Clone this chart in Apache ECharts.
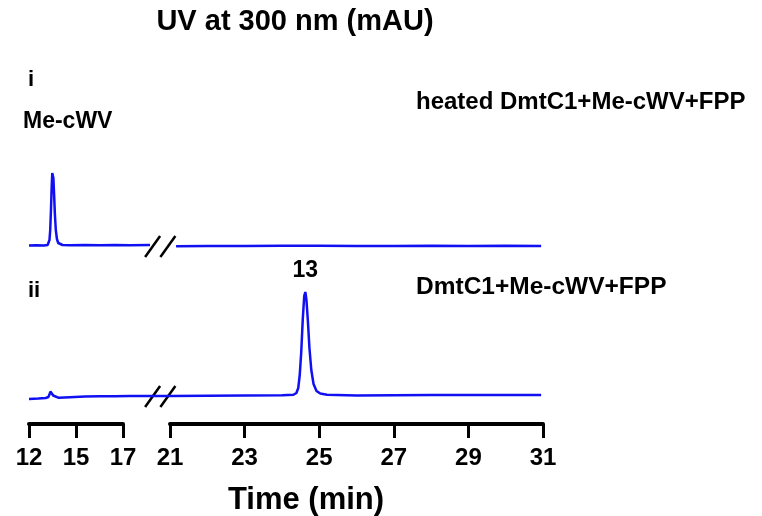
<!DOCTYPE html>
<html>
<head>
<meta charset="utf-8">
<script src="https://cdn.jsdelivr.net/npm/echarts@6/dist/echarts.min.js"></script>
<style>
  html, body { margin: 0; padding: 0; background: #fff; }
  #chart { width: 762px; height: 516px; }
</style>
</head>
<body>
<div id="chart"></div>
<script>
// tick labels of the broken time axis
const leftTicks = ['12', '15', '17']
const rightTicks = [21, 23, 25, 27, 29, 31]

// trace i : heated DmtC1 + Me-cWV + FPP   [time, mAU]
const traceILeft = [
  [12.0, 4.5], [12.4, 4.8], [12.8, 4.6], [13.0, 5.0], [13.06, 6.5], [13.1, 10],
  [13.14, 20], [13.18, 40], [13.22, 64], [13.25, 77], [13.28, 79], [13.31, 72],
  [13.35, 55], [13.39, 36], [13.44, 20], [13.5, 11], [13.57, 7], [13.65, 5.5],
  [13.8, 5.0], [14.2, 4.8], [15.0, 5.0], [15.8, 4.7], [16.6, 5.0], [17.4, 4.8],
  [18.5, 5.0]
]
const traceIRight = [
  [21.15, 3.8], [22.0, 4.0], [23.0, 3.9], [24.0, 4.2], [25.0, 4.3], [26.0, 4.0],
  [27.0, 4.1], [28.0, 4.3], [29.0, 4.0], [30.0, 4.2], [30.95, 4.1]
]

// trace ii : DmtC1 + Me-cWV + FPP
const traceIILeft = [
  [12.0, 1.0], [12.5, 1.5], [12.9, 2.0], [13.04, 3], [13.1, 5.5], [13.15, 8.5],
  [13.19, 9.5], [13.24, 7.5], [13.3, 4.5], [13.38, 2.8], [13.6, 2.2], [14.2, 2.8],
  [15.0, 3.5], [15.8, 3.8], [16.6, 3.7], [17.4, 4.0], [18.5, 4.0]
]
const traceIIRight = [
  [20.45, 4.0], [21.0, 4.0], [22.0, 4.3], [23.0, 4.6], [24.0, 4.8], [24.3, 5.2],
  [24.38, 7], [24.43, 12], [24.47, 25], [24.51, 48], [24.55, 80], [24.59, 104],
  [24.62, 108], [24.65, 100], [24.69, 78], [24.73, 52], [24.78, 30], [24.84, 16],
  [24.92, 9], [25.02, 6.5], [25.2, 5.3], [26.0, 4.6], [27.0, 4.8], [28.0, 4.9],
  [29.0, 5.0], [30.0, 5.1], [30.95, 5.0]
]

const FONT = '"Liberation Sans", Arial, sans-serif'
const BLUE = '#1010f2'

const chart = echarts.init(document.getElementById('chart'), null, { renderer: 'canvas' })

const hiddenX = (min, max, grid) => ({ type: 'value', gridIndex: grid, min, max, show: false })
const hiddenY = (max, grid) => ({ type: 'value', gridIndex: grid, min: 0, max, show: false })

const axisStyle = {
  axisLine: { show: true, onZero: false, lineStyle: { color: '#000', width: 4 } },
  axisTick: { show: true, inside: false, length: 14, lineStyle: { color: '#000', width: 3 } },
  axisLabel: { color: '#000', fontFamily: FONT, fontWeight: 'bold', fontSize: 24, margin: 22 },
  splitLine: { show: false },
}

const trace = (data, axis, clip) => ({
  type: 'line',
  xAxisIndex: axis,
  yAxisIndex: axis,
  data,
  showSymbol: false,
  clip,
  lineStyle: { color: BLUE, width: 2.5 },
  silent: true,
  animation: false,
})

chart.setOption({
  animation: false,
  backgroundColor: '#fff',
  grid: [
    { left: 29, width: 121, top: 150, height: 100 },   // i, left part
    { left: 150, width: 393, top: 150, height: 100 },  // i, right part
    { left: 29, width: 121, top: 270, height: 130 },   // ii, left part
    { left: 150, width: 393, top: 270, height: 130 },  // ii, right part
    { left: 29, width: 94, top: 300, height: 124 },    // axis, left segment
    { left: 170, width: 373, top: 300, height: 124 },  // axis, right segment
  ],
  xAxis: [
    hiddenX(12, 18.5, 0),
    hiddenX(20.45, 31, 1),
    hiddenX(12, 18.5, 2),
    hiddenX(20.45, 31, 3),
    {
      type: 'category', gridIndex: 4, data: leftTicks, boundaryGap: false, position: 'bottom',
      ...axisStyle,
      axisTick: { ...axisStyle.axisTick, alignWithLabel: true },
      axisLabel: { ...axisStyle.axisLabel, interval: 0 },
    },
    {
      type: 'value', gridIndex: 5, position: 'bottom',
      min: rightTicks[0], max: rightTicks[rightTicks.length - 1],
      interval: rightTicks[1] - rightTicks[0],
      ...axisStyle,
    },
  ],
  yAxis: [
    hiddenY(100, 0), hiddenY(100, 1), hiddenY(130, 2), hiddenY(130, 3),
    hiddenY(1, 4), hiddenY(1, 5),
  ],
  series: [
    trace(traceILeft, 0, true),
    trace(traceIRight, 1, false),
    trace(traceIILeft, 2, true),
    trace(traceIIRight, 3, false),
  ],
})

// axis-break slashes on each trace, placed through the right-hand axes
const breakTimes = [20.52, 20.93]
const breaks = []
;[[1, 4], [3, 4]].forEach(([axis, level]) => {
  breakTimes.forEach((t) => {
    const [px, py] = chart.convertToPixel({ xAxisIndex: axis, yAxisIndex: axis }, [t, level])
    breaks.push({
      type: 'line',
      shape: { x1: px - 7.5, y1: py + 11, x2: px + 7.5, y2: py - 10 },
      style: { stroke: '#000', lineWidth: 2.5 },
      silent: true,
    })
  })
})

const label = (text, x, y, size, align) => ({
  type: 'text',
  x, y,
  style: {
    text, fill: '#000', font: `bold ${size}px ${FONT}`,
    textAlign: align || 'left', textVerticalAlign: 'middle',
  },
  silent: true,
})

// the "13" sits above the big peak of trace ii
const peak = traceIIRight.reduce((a, b) => (b[1] > a[1] ? b : a))
const [peakX, peakY] = chart.convertToPixel({ xAxisIndex: 3, yAxisIndex: 3 }, peak)

chart.setOption({
  graphic: [
    ...breaks,
    label('UV at 300 nm (mAU)', 295, 22, 29, 'center'),
    label('i', 28, 80, 22),
    label('Me-cWV', 23, 122, 23),
    label('heated DmtC1+Me-cWV+FPP', 416, 102, 24),
    label('ii', 28, 291, 22),
    label('DmtC1+Me-cWV+FPP', 416, 287, 24.5),
    label('13', peakX, peakY - 21, 23, 'center'),
    label('Time (min)', 306, 500, 31, 'center'),
  ],
})
</script>
</body>
</html>
